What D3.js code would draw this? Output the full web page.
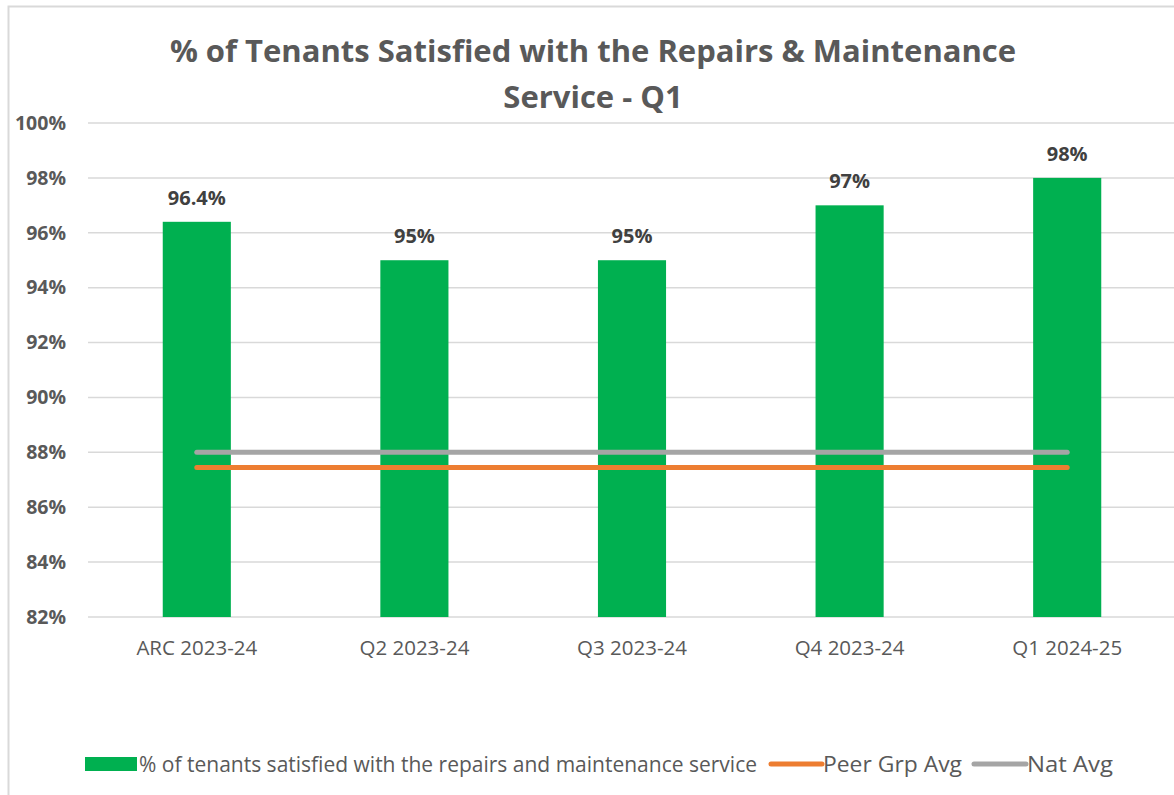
<!DOCTYPE html>
<html>
<head>
<meta charset="utf-8">
<script src="https://cdn.jsdelivr.net/npm/d3@7"></script>
<style>
  body { margin: 0; background: #fff; }
  svg { display: block; }
</style>
</head>
<body>
<div id="chart"></div>
<script>
const categories = ['ARC 2023-24', 'Q2 2023-24', 'Q3 2023-24', 'Q4 2023-24', 'Q1 2024-25'];
const satisfied = [96.4, 95, 95, 97, 98];
const satisfiedLabels = ['96.4%', '95%', '95%', '97%', '98%'];
const peerAvg = [87.45, 87.45, 87.45, 87.45, 87.45];
const natAvg = [88, 88, 88, 88, 88];
const yTicks = [82, 84, 86, 88, 90, 92, 94, 96, 98, 100];
const titleLines = ['% of Tenants Satisfied with the Repairs & Maintenance', 'Service - Q1'];
const legendNames = ['% of tenants satisfied with the repairs and maintenance service', 'Peer Grp Avg', 'Nat Avg'];

const W = 1174, H = 795;
const margin = { top: 123, right: -2, bottom: 178, left: 88 };
const width = W - margin.left - margin.right;
const height = H - margin.top - margin.bottom;

const svg = d3.select('#chart').append('svg')
  .attr('width', W)
  .attr('height', H)
  .style('font-family', '"Open Sans", sans-serif');

// chart frame (left + top edges visible)
svg.append('path')
  .attr('d', `M8.5,${H} V6.5 H${W}`)
  .attr('fill', 'none')
  .attr('stroke', '#d9d9d9')
  .attr('stroke-width', 2);

// title
svg.append('g').selectAll('text')
  .data(titleLines)
  .join('text')
  .attr('x', 593)
  .attr('y', (d, i) => 62 + i * 46)
  .attr('text-anchor', 'middle')
  .attr('font-size', 31)
  .attr('font-weight', 'bold')
  .attr('fill', '#595959')
  .text(d => d);

const chart = svg.append('g')
  .attr('transform', `translate(${margin.left}, ${margin.top})`);

const x = d3.scaleBand().domain(categories).range([0, width]).padding(0);
const y = d3.scaleLinear().domain([82, 100]).range([height, 0]);
const barW = x.bandwidth() * 0.313;

// gridlines
chart.append('g').selectAll('line')
  .data(yTicks)
  .join('line')
  .attr('x1', 0)
  .attr('x2', width)
  .attr('y1', d => y(d))
  .attr('y2', d => y(d))
  .attr('stroke', '#d9d9d9')
  .attr('stroke-width', 1.5);

// y axis labels
const yAxis = chart.append('g')
  .call(d3.axisLeft(y).tickValues(yTicks).tickFormat(d => d + '%').tickSize(0).tickPadding(22));
yAxis.select('.domain').remove();
yAxis.selectAll('text')
  .attr('font-family', '"Open Sans", sans-serif')
  .attr('font-size', 19.5)
  .attr('font-weight', 'bold')
  .attr('fill', '#595959');

// x axis labels
const xAxis = chart.append('g')
  .attr('transform', `translate(0, ${height})`)
  .call(d3.axisBottom(x).tickSize(0).tickPadding(23));
xAxis.select('.domain').remove();
xAxis.selectAll('text')
  .attr('font-family', '"Open Sans", sans-serif')
  .attr('font-size', 20.5)
  .attr('fill', '#595959');

// bars
chart.append('g').selectAll('rect')
  .data(satisfied)
  .join('rect')
  .attr('x', (d, i) => x(categories[i]) + x.bandwidth() / 2 - barW / 2)
  .attr('y', d => y(d))
  .attr('width', barW)
  .attr('height', d => height - y(d))
  .attr('fill', '#00b050');

// bar labels
chart.append('g').selectAll('text')
  .data(satisfied)
  .join('text')
  .attr('x', (d, i) => x(categories[i]) + x.bandwidth() / 2)
  .attr('y', d => y(d) - 17)
  .attr('text-anchor', 'middle')
  .attr('font-size', 20)
  .attr('font-weight', 'bold')
  .attr('fill', '#404040')
  .text((d, i) => satisfiedLabels[i]);

// average lines
const line = d3.line()
  .x((d, i) => x(categories[i]) + x.bandwidth() / 2)
  .y(d => y(d));

chart.append('path')
  .datum(natAvg)
  .attr('d', line)
  .attr('fill', 'none')
  .attr('stroke', '#a5a5a5')
  .attr('stroke-width', 5)
  .attr('stroke-linecap', 'round');

chart.append('path')
  .datum(peerAvg)
  .attr('d', line)
  .attr('fill', 'none')
  .attr('stroke', '#ed7d31')
  .attr('stroke-width', 5)
  .attr('stroke-linecap', 'round');

// legend
const legend = svg.append('g').attr('transform', 'translate(0, 765)')
  .style('font-family', '"Liberation Sans Narrow", "Open Sans", sans-serif')
  .attr('font-size', 21)
  .attr('fill', '#595959');

legend.append('rect')
  .attr('x', 85).attr('y', -8).attr('width', 52).attr('height', 14)
  .attr('fill', '#00b050');
legend.append('text')
  .attr('x', 139).attr('y', 7)
  .attr('textLength', 618).attr('lengthAdjust', 'spacingAndGlyphs')
  .text(legendNames[0]);

legend.append('line')
  .attr('x1', 771).attr('x2', 822).attr('y1', -1).attr('y2', -1)
  .attr('stroke', '#ed7d31').attr('stroke-width', 5).attr('stroke-linecap', 'round');
legend.append('text')
  .attr('x', 823).attr('y', 7)
  .attr('textLength', 139).attr('lengthAdjust', 'spacingAndGlyphs')
  .text(legendNames[1]);

legend.append('line')
  .attr('x1', 974).attr('x2', 1026).attr('y1', -1).attr('y2', -1)
  .attr('stroke', '#a5a5a5').attr('stroke-width', 5).attr('stroke-linecap', 'round');
legend.append('text')
  .attr('x', 1027).attr('y', 7)
  .attr('textLength', 86).attr('lengthAdjust', 'spacingAndGlyphs')
  .text(legendNames[2]);
</script>
</body>
</html>
